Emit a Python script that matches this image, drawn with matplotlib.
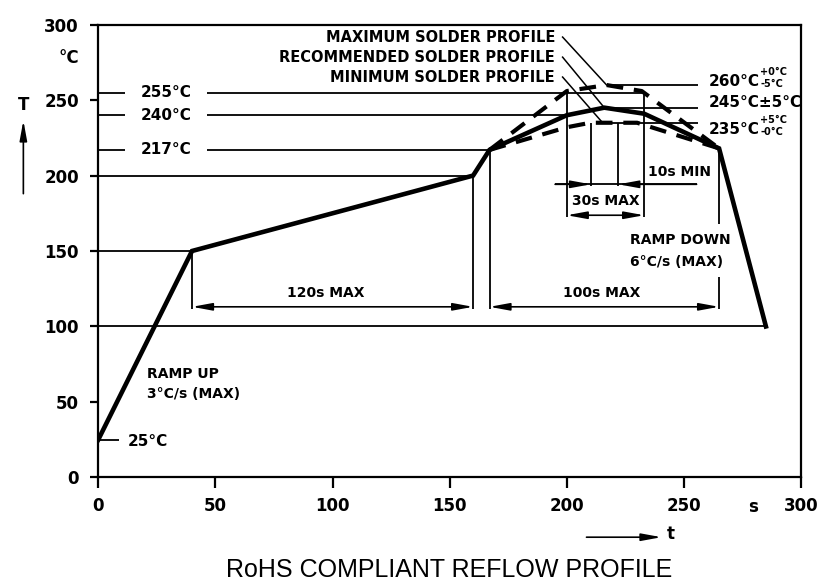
import matplotlib
matplotlib.use("Agg")
import matplotlib.pyplot as plt
from matplotlib import font_manager as fm

# reflow profile data (time in s, temperature in degC)
solid_t = [0, 40, 160, 167, 200, 216, 233, 265, 285]
solid_T = [25, 150, 200, 217, 240, 245, 241, 218, 100]
max_t = [167, 200, 217, 232, 265]
max_T = [217, 256, 260, 256, 218]
min_t = [167, 200, 210, 230, 265]
min_T = [217, 232, 235, 235, 218]

left_levels = [255, 240, 217]
left_ends = [233, 200, 167]
right_levels = [260, 245, 235]
right_labels = ["260°C", "245°C±5°C", "235°C"]
right_tols = [("+0°C", "-5°C"), None, ("+5°C", "-0°C")]
profile_names = ["MAXIMUM SOLDER PROFILE", "RECOMMENDED SOLDER PROFILE", "MINIMUM SOLDER PROFILE"]
leader_ends = [(217, 260), (216, 245), (215, 235.5)]

ticks = [0, 50, 100, 150, 200, 250, 300]

names = {f.name for f in fm.fontManager.ttflist}
TECH = "DejaVu Sans"
TITLE = "Liberation Sans" if "Liberation Sans" in names else "DejaVu Sans"

fig = plt.figure(figsize=(8.2, 5.85), dpi=100)
ax = fig.add_axes([0.1199, 0.1841, 0.857, 0.7737])
ax.set_xlim(0, 300)
ax.set_ylim(0, 300)

for sp in ax.spines.values():
    sp.set_linewidth(1.6)
ax.set_xticks(ticks)
ax.set_yticks(ticks)
ax.tick_params(axis="x", direction="out", length=8, width=1.6, pad=6)
ax.tick_params(axis="y", direction="out", length=6, width=1.6, pad=8)
for lab in ax.get_xticklabels() + ax.get_yticklabels():
    lab.set_fontfamily(TECH)
    lab.set_fontweight("bold")
    lab.set_fontsize(12)

thin = dict(color="k", lw=1.3, solid_capstyle="butt")
tk = dict(family=TECH, fontweight="bold", color="k")

def hline(y, x0, x1):
    ax.plot([x0, x1], [y, y], **thin)

def vline(x, y0, y1):
    ax.plot([x, x], [y0, y1], **thin)

# profiles
ax.plot(solid_t, solid_T, color="k", lw=3.3, solid_joinstyle="miter", zorder=5)
ax.plot(max_t, max_T, color="k", lw=3, dashes=(4, 2.6), zorder=5)
ax.plot(min_t, min_T, color="k", lw=3, dashes=(4, 2.6), zorder=5)

# left reference lines with labels
for lev, end in zip(left_levels, left_ends):
    hline(lev, 0, 11.5)
    hline(lev, 46.5, end)
    ax.text(29, lev, f"{lev}°C", ha="center", va="center", fontsize=11, **tk)
hline(solid_T[2], 0, solid_t[2])
hline(solid_T[1], 0, solid_t[1])
hline(solid_T[-1], 0, solid_t[-1])
hline(solid_T[0], 0, 9)
ax.text(12.7, solid_T[0] - 1, f"{solid_T[0]}°C", ha="left", va="center", fontsize=11, **tk)

# right labels
label_y = [262.5, 248.5, 230.5]
for lev, lab, tol, ly, (lx, lyy), name, ny in zip(right_levels, right_labels, right_tols,
                                                    label_y, leader_ends, profile_names,
                                                    [291.8, 278.5, 265.3]):
    hline(lev, lx, 256)
    ax.text(260.5, ly, lab, ha="left", va="center", fontsize=11, **tk)
    if tol:
        ax.text(282.5, ly + 6, tol[0], ha="left", va="center", fontsize=7, **tk)
        ax.text(282.5, ly - 1.5, tol[1], ha="left", va="center", fontsize=7, **tk)
    ax.plot([198.2, lx], [ny, lyy], color="k", lw=1.1)
    ax.text(195, ny, name, ha="right", va="center", fontsize=10.5, **tk)

arr2 = dict(arrowstyle="<|-|>,head_length=1.2,head_width=0.22", color="k", lw=1.2,
            shrinkA=0, shrinkB=0)
arr1 = dict(arrowstyle="-|>,head_length=1.2,head_width=0.22", color="k", lw=1.2,
            shrinkA=0, shrinkB=0)

# 120 s preheat
vline(solid_t[1], solid_T[1], 111.5)
vline(solid_t[2], solid_T[2], 111.5)
ax.annotate("", xy=(solid_t[2], 113), xytext=(solid_t[1], 113), arrowprops=arr2)
ax.text(97, 122, "120s MAX", ha="center", va="center", fontsize=10, **tk)

# 100 s above liquidus
vline(solid_t[3], solid_T[3], 111.5)
vline(solid_t[7], solid_T[7], 168)
vline(solid_t[7], 133, 111.5)
ax.annotate("", xy=(solid_t[7], 113), xytext=(solid_t[3], 113), arrowprops=arr2)
ax.text(215, 122, "100s MAX", ha="center", va="center", fontsize=10, **tk)

# 30 s max
vline(200, 255, 172.3)
vline(233, 255, 172.3)
ax.annotate("", xy=(233, 173.7), xytext=(200, 173.7), arrowprops=arr2)
ax.text(216.5, 183, "30s MAX", ha="center", va="center", fontsize=10, **tk)

# 10 s min
vline(210.3, 235, 193)
vline(222, 235, 193)
hline(194.2, 195, 255.4)
ax.annotate("", xy=(210.3, 194.2), xytext=(195, 194.2), arrowprops=arr1)
ax.annotate("", xy=(222, 194.2), xytext=(255.4, 194.2), arrowprops=arr1)
ax.text(234.5, 202.5, "10s MIN", ha="left", va="center", fontsize=10, **tk)

# ramp texts
ax.text(20.6, 68.4, "RAMP UP", ha="left", va="center", fontsize=10, **tk)
ax.text(20.6, 55.5, "3°C/s (MAX)", ha="left", va="center", fontsize=10, **tk)
ax.text(227, 157, "RAMP DOWN", ha="left", va="center", fontsize=10, **tk)
ax.text(227, 143, "6°C/s (MAX)", ha="left", va="center", fontsize=10, **tk)

# axis names
ax.text(-12.7, 277.7, "°C", ha="center", va="center", fontsize=12, clip_on=False, **tk)
ax.text(-32, 247, "T", ha="center", va="center", fontsize=12, clip_on=False, **tk)
ax.annotate("", xy=(-32, 236.5), xytext=(-32, 188), arrowprops=arr1, annotation_clip=False)
ax.text(279.5, -19.5, "s", ha="center", va="center", fontsize=12, clip_on=False, **tk)
ax.text(244.5, -37.5, "t", ha="center", va="center", fontsize=12, clip_on=False, **tk)
ax.annotate("", xy=(240.4, -39.7), xytext=(208.4, -39.7), arrowprops=arr1, annotation_clip=False)

fig.text(0.548, 0.0256, "RoHS COMPLIANT REFLOW PROFILE", ha="center", va="center",
         fontsize=18, family=TITLE)

fig.savefig("out.png", dpi=100)
